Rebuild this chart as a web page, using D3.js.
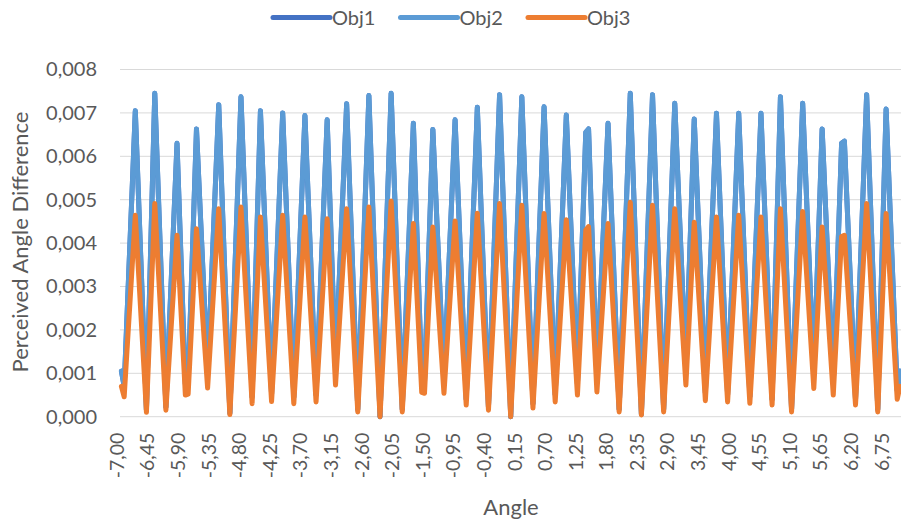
<!DOCTYPE html>
<html>
<head>
<meta charset="utf-8">
<script src="https://cdn.jsdelivr.net/npm/d3@7"></script>
<style>
  body { margin: 0; background: #fff; }
  svg { display: block; font-family: Lato, "Open Sans", sans-serif; }
</style>
</head>
<body>
<svg id="chart" width="901" height="524"></svg>
<script>
// series names and colours (Excel default palette)
var seriesNames = ["Obj1", "Obj2", "Obj3"];
var seriesColors = ["#4472C4", "#5B9BD5", "#ED7D31"];

// x tick labels shown under the category axis (every 11th category)
var xTickLabels = ["-7,00", "-6,45", "-5,90", "-5,35", "-4,80", "-4,25", "-3,70", "-3,15",
  "-2,60", "-2,05", "-1,50", "-0,95", "-0,40", "0,15", "0,70", "1,25", "1,80", "2,35",
  "2,90", "3,45", "4,00", "4,55", "5,10", "5,65", "6,20", "6,75"];

var yTicks = [0, 0.001, 0.002, 0.003, 0.004, 0.005, 0.006, 0.007, 0.008];

// Obj2 (one value per category, -7,00 .. 7,00)
var obj2 = [
  0.00105, 0.00070, 0.00229, 0.00388, 0.00546, 0.00705, 0.00533, 0.00360, 0.00188, 0.00015,
  0.00258, 0.00502, 0.00745, 0.00564, 0.00384, 0.00203, 0.00022, 0.00174, 0.00326, 0.00478,
  0.00630, 0.00445, 0.00260, 0.00075, 0.00078, 0.00273, 0.00468, 0.00663, 0.00522, 0.00382,
  0.00241, 0.00100, 0.00255, 0.00410, 0.00564, 0.00719, 0.00541, 0.00364, 0.00186, 0.00008,
  0.00190, 0.00373, 0.00555, 0.00737, 0.00564, 0.00391, 0.00218, 0.00045, 0.00265, 0.00485,
  0.00705, 0.00542, 0.00379, 0.00215, 0.00052, 0.00214, 0.00376, 0.00538, 0.00700, 0.00536,
  0.00373, 0.00209, 0.00045, 0.00207, 0.00370, 0.00532, 0.00694, 0.00533, 0.00372, 0.00211,
  0.00050, 0.00209, 0.00367, 0.00526, 0.00684, 0.00493, 0.00301, 0.00110, 0.00263, 0.00416,
  0.00568, 0.00721, 0.00545, 0.00369, 0.00193, 0.00017, 0.00198, 0.00379, 0.00559, 0.00740,
  0.00555, 0.00370, 0.00185, 0.00000, 0.00186, 0.00373, 0.00559, 0.00745, 0.00563, 0.00381,
  0.00199, 0.00017, 0.00182, 0.00346, 0.00511, 0.00676, 0.00479, 0.00281, 0.00084, 0.00081,
  0.00275, 0.00468, 0.00662, 0.00517, 0.00372, 0.00226, 0.00081, 0.00232, 0.00383, 0.00533,
  0.00684, 0.00523, 0.00362, 0.00201, 0.00040, 0.00208, 0.00377, 0.00545, 0.00713, 0.00540,
  0.00368, 0.00195, 0.00022, 0.00202, 0.00382, 0.00562, 0.00742, 0.00557, 0.00371, 0.00186,
  0.00000, 0.00184, 0.00369, 0.00553, 0.00737, 0.00560, 0.00384, 0.00207, 0.00030, 0.00201,
  0.00372, 0.00543, 0.00714, 0.00548, 0.00383, 0.00217, 0.00051, 0.00212, 0.00373, 0.00534,
  0.00695, 0.00540, 0.00385, 0.00230, 0.00075, 0.00268, 0.00462, 0.00655, 0.00663, 0.00470,
  0.00278, 0.00085, 0.00233, 0.00381, 0.00528, 0.00676, 0.00511, 0.00347, 0.00182, 0.00017,
  0.00199, 0.00381, 0.00563, 0.00745, 0.00560, 0.00376, 0.00191, 0.00006, 0.00190, 0.00374,
  0.00558, 0.00742, 0.00561, 0.00380, 0.00198, 0.00017, 0.00193, 0.00370, 0.00546, 0.00722,
  0.00569, 0.00416, 0.00263, 0.00110, 0.00302, 0.00494, 0.00686, 0.00528, 0.00371, 0.00213,
  0.00055, 0.00216, 0.00377, 0.00538, 0.00699, 0.00537, 0.00375, 0.00213, 0.00051, 0.00213,
  0.00375, 0.00537, 0.00699, 0.00536, 0.00373, 0.00209, 0.00046, 0.00209, 0.00373, 0.00536,
  0.00699, 0.00534, 0.00370, 0.00205, 0.00040, 0.00272, 0.00505, 0.00737, 0.00557, 0.00377,
  0.00197, 0.00017, 0.00193, 0.00370, 0.00546, 0.00722, 0.00566, 0.00410, 0.00253, 0.00097,
  0.00286, 0.00474, 0.00663, 0.00516, 0.00369, 0.00222, 0.00075, 0.00260, 0.00445, 0.00630,
  0.00635, 0.00486, 0.00338, 0.00189, 0.00040, 0.00216, 0.00391, 0.00567, 0.00742, 0.00561,
  0.00380, 0.00198, 0.00017, 0.00248, 0.00478, 0.00709, 0.00547, 0.00385, 0.00222, 0.00060,
  0.00105
];

// Obj1 lies exactly under Obj2 in the picture
var obj1 = obj2.slice();

// Obj3 (orange)
var obj3 = [
  0.00070, 0.00046, 0.00151, 0.00255, 0.00360, 0.00464, 0.00351, 0.00237, 0.00124, 0.00010,
  0.00170, 0.00331, 0.00491, 0.00372, 0.00253, 0.00134, 0.00015, 0.00116, 0.00217, 0.00317,
  0.00418, 0.00295, 0.00173, 0.00050, 0.00052, 0.00179, 0.00306, 0.00433, 0.00341, 0.00250,
  0.00158, 0.00066, 0.00169, 0.00273, 0.00376, 0.00479, 0.00361, 0.00242, 0.00124, 0.00005,
  0.00125, 0.00244, 0.00364, 0.00483, 0.00370, 0.00257, 0.00143, 0.00030, 0.00173, 0.00317,
  0.00460, 0.00354, 0.00248, 0.00141, 0.00035, 0.00142, 0.00250, 0.00357, 0.00464, 0.00356,
  0.00247, 0.00139, 0.00030, 0.00138, 0.00245, 0.00353, 0.00460, 0.00354, 0.00247, 0.00141,
  0.00034, 0.00140, 0.00245, 0.00351, 0.00456, 0.00328, 0.00201, 0.00073, 0.00175, 0.00276,
  0.00378, 0.00479, 0.00362, 0.00245, 0.00128, 0.00011, 0.00129, 0.00247, 0.00365, 0.00483,
  0.00362, 0.00242, 0.00121, 0.00000, 0.00124, 0.00249, 0.00373, 0.00497, 0.00376, 0.00254,
  0.00133, 0.00011, 0.00120, 0.00228, 0.00337, 0.00445, 0.00315, 0.00186, 0.00056, 0.00054,
  0.00182, 0.00309, 0.00437, 0.00341, 0.00246, 0.00150, 0.00054, 0.00153, 0.00253, 0.00352,
  0.00451, 0.00345, 0.00239, 0.00133, 0.00027, 0.00138, 0.00248, 0.00359, 0.00469, 0.00356,
  0.00242, 0.00129, 0.00015, 0.00134, 0.00253, 0.00372, 0.00491, 0.00368, 0.00246, 0.00123,
  0.00000, 0.00122, 0.00244, 0.00365, 0.00487, 0.00370, 0.00254, 0.00137, 0.00020, 0.00132,
  0.00244, 0.00356, 0.00468, 0.00360, 0.00251, 0.00143, 0.00034, 0.00139, 0.00244, 0.00349,
  0.00454, 0.00353, 0.00252, 0.00151, 0.00050, 0.00177, 0.00303, 0.00430, 0.00438, 0.00311,
  0.00184, 0.00057, 0.00154, 0.00251, 0.00348, 0.00445, 0.00337, 0.00228, 0.00120, 0.00011,
  0.00132, 0.00253, 0.00373, 0.00494, 0.00372, 0.00249, 0.00127, 0.00004, 0.00125, 0.00246,
  0.00366, 0.00487, 0.00368, 0.00249, 0.00130, 0.00011, 0.00128, 0.00245, 0.00362, 0.00479,
  0.00378, 0.00276, 0.00175, 0.00073, 0.00198, 0.00323, 0.00448, 0.00345, 0.00243, 0.00140,
  0.00037, 0.00143, 0.00249, 0.00354, 0.00460, 0.00354, 0.00247, 0.00141, 0.00034, 0.00142,
  0.00249, 0.00357, 0.00464, 0.00356, 0.00248, 0.00139, 0.00031, 0.00138, 0.00246, 0.00353,
  0.00460, 0.00352, 0.00244, 0.00135, 0.00027, 0.00178, 0.00328, 0.00479, 0.00362, 0.00245,
  0.00128, 0.00011, 0.00127, 0.00242, 0.00358, 0.00473, 0.00371, 0.00269, 0.00167, 0.00065,
  0.00189, 0.00313, 0.00437, 0.00340, 0.00244, 0.00147, 0.00050, 0.00172, 0.00293, 0.00415,
  0.00418, 0.00320, 0.00223, 0.00125, 0.00027, 0.00143, 0.00259, 0.00375, 0.00491, 0.00371,
  0.00251, 0.00131, 0.00011, 0.00163, 0.00316, 0.00468, 0.00361, 0.00254, 0.00147, 0.00040,
  0.00070
];

var locale = d3.formatLocale({ decimal: ",", thousands: ".", grouping: [3], currency: ["", ""], minus: "-" });
var fmt2 = locale.format(".2f");
var fmt3 = locale.format(".3f");

// categories -7,00 .. 7,00 in steps of 0,05
var angles = d3.range(-140, 141).map(function (k) { return fmt2(k / 20); });

var svg = d3.select("#chart");
var plotLeft = 120, plotRight = 901, plotTop = 69.5, plotBottom = 416.7;

var x = d3.scalePoint().domain(angles).range([121.4, 900]);
var y = d3.scaleLinear().domain([0, 0.008]).range([plotBottom, plotTop]);

// gridlines
svg.append("g")
  .selectAll("line")
  .data(yTicks)
  .enter()
  .append("line")
  .attr("x1", plotLeft)
  .attr("x2", plotRight)
  .attr("y1", function (d) { return y(d); })
  .attr("y2", function (d) { return y(d); })
  .attr("stroke", "#d9d9d9")
  .attr("stroke-width", 1);

// y axis labels
var yAxis = svg.append("g")
  .attr("transform", "translate(" + plotLeft + ",0)")
  .call(d3.axisLeft(y).tickValues(yTicks).tickFormat(fmt3).tickSize(0).tickPadding(23));
yAxis.select(".domain").remove();
yAxis.selectAll("text")
  .attr("fill", "#595959")
  .style("font-size", "20px")
  .style("font-family", "Lato, sans-serif");

// x axis labels, rotated
var xAxis = svg.append("g")
  .attr("transform", "translate(0," + plotBottom + ")")
  .call(d3.axisBottom(x).tickValues(xTickLabels).tickSize(0));
xAxis.select(".domain").remove();
xAxis.selectAll("text")
  .attr("transform", "rotate(-90)")
  .attr("x", -16)
  .attr("y", 2)
  .attr("dy", 0)
  .style("text-anchor", "end")
  .attr("fill", "#595959")
  .style("font-size", "19.5px")
  .style("font-family", "Lato, sans-serif");

// lines
var seriesData = [obj1, obj2, obj3];
var line = d3.line()
  .x(function (d, i) { return x(angles[i]); })
  .y(function (d) { return y(d); });

svg.append("g")
  .selectAll("path")
  .data(seriesData)
  .enter()
  .append("path")
  .attr("d", line)
  .attr("fill", "none")
  .attr("stroke", function (d, i) { return seriesColors[i]; })
  .attr("stroke-width", 5)
  .attr("stroke-linejoin", "round")
  .attr("stroke-linecap", "round");

// axis titles
svg.append("text")
  .attr("transform", "translate(28,242) rotate(-90)")
  .attr("text-anchor", "middle")
  .attr("fill", "#595959")
  .style("font-size", "22px")
  .text("Perceived Angle Difference");

svg.append("text")
  .attr("x", 511)
  .attr("y", 515)
  .attr("text-anchor", "middle")
  .attr("fill", "#595959")
  .style("font-size", "22px")
  .text("Angle");

// legend
var legend = svg.append("g")
  .selectAll("g")
  .data(seriesNames)
  .enter()
  .append("g")
  .attr("transform", function (d, i) { return "translate(" + (273 + i * 127.5) + ",17.5)"; });

legend.append("line")
  .attr("x1", 0)
  .attr("x2", 57)
  .attr("stroke", function (d, i) { return seriesColors[i]; })
  .attr("stroke-width", 5)
  .attr("stroke-linecap", "round");

legend.append("text")
  .attr("x", 59)
  .attr("dy", "0.35em")
  .attr("fill", "#595959")
  .style("font-size", "20px")
  .text(function (d) { return d; });
</script>
</body>
</html>
